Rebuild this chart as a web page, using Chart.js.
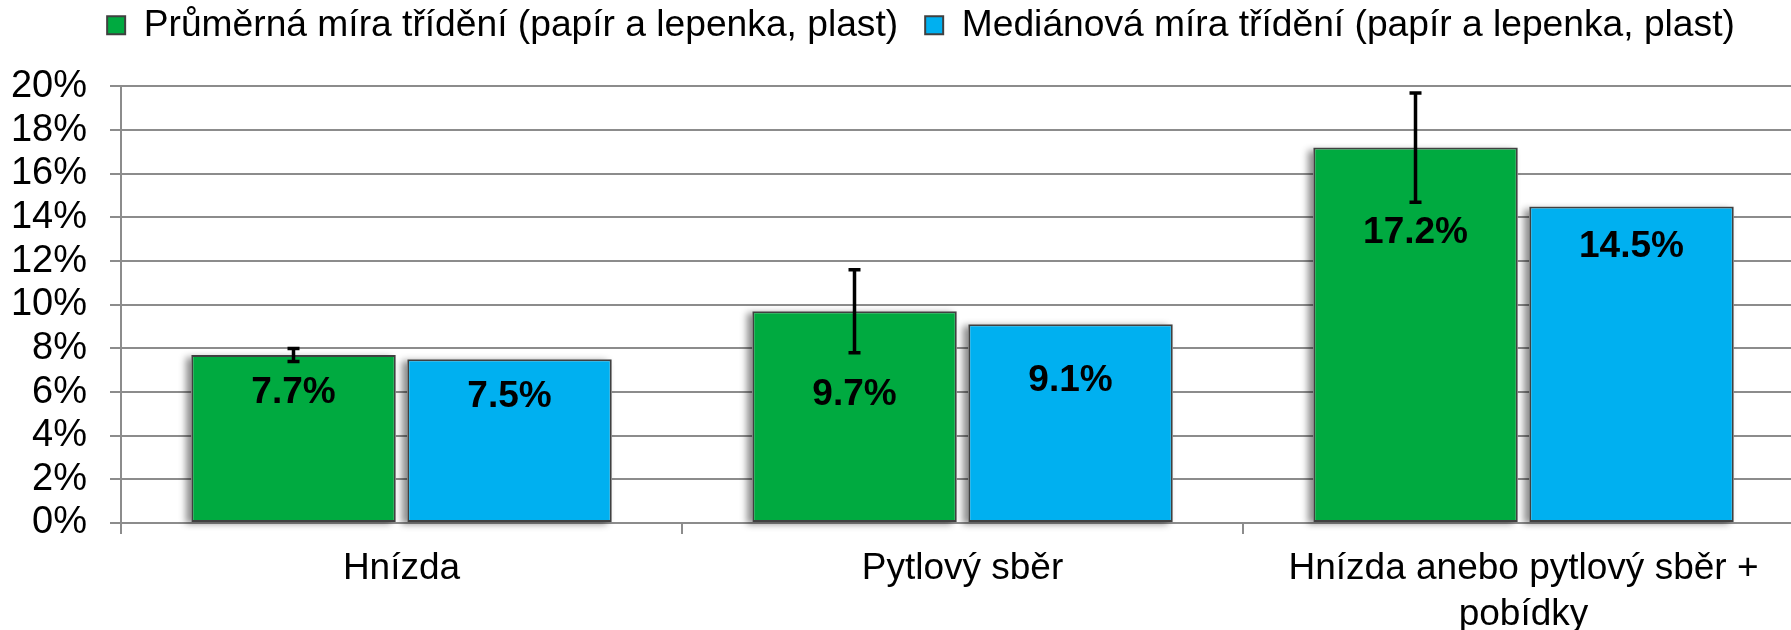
<!DOCTYPE html>
<html>
<head>
<meta charset="utf-8">
<script src="https://cdn.jsdelivr.net/npm/chart.js@4.4.1/dist/chart.umd.min.js"></script>
<style>
  html, body { margin: 0; padding: 0; background: #fff; overflow: hidden; }
  #wrap { position: absolute; left: 0; top: 0; }
</style>
</head>
<body>
<div id="wrap"><canvas id="chart" width="1842" height="630"></canvas></div>
<script>
const categories = ['Hnízda', 'Pytlový sběr', ['Hnízda anebo pytlový sběr +', 'pobídky']];
const seriesNames = ['Průměrná míra třídění (papír a lepenka, plast)', 'Mediánová míra třídění (papír a lepenka, plast)'];
const meanRate = [7.7, 9.7, 17.2];
const medianRate = [7.5, 9.1, 14.5];
const meanError = [0.3, 1.9, 2.5];
const yTicks = [0, 2, 4, 6, 8, 10, 12, 14, 16, 18, 20];

const FONT = '"Liberation Sans", Arial, sans-serif';
const GRID = '#8c8c8c';
// how far below the bar top each value label sits (labels were moved by hand in the original)
const labelDrop = [[38, 84, 85], [38, 56, 40]];

// soft shadow to the left of each bar
const barShadow = {
    id: 'barShadow',
    beforeDatasetsDraw: chart => {
        const ctx = chart.ctx;
        ctx.save();
        ctx.shadowColor = 'rgba(0,0,0,0.45)';
        ctx.shadowBlur = 7;
        ctx.shadowOffsetX = -5;
        ctx.shadowOffsetY = 2;
        ctx.fillStyle = '#fff';
        chart.data.datasets.forEach((ds, dsIdx) => {
            chart.getDatasetMeta(dsIdx).data.forEach(bar => {
                ctx.fillRect(bar.x - bar.width / 2, bar.y, bar.width, bar.base - bar.y);
            });
        });
        ctx.restore();
    }
};

const errorBars = {
    id: 'errorBars',
    afterDatasetsDraw: chart => {
        const ctx = chart.ctx;
        const y = chart.scales.y;
        const meta = chart.getDatasetMeta(0);
        ctx.save();
        ctx.strokeStyle = '#000';
        ctx.lineWidth = 3.5;
        meta.data.forEach((bar, i) => {
            const hi = y.getPixelForValue(meanRate[i] + meanError[i]);
            const lo = y.getPixelForValue(meanRate[i] - meanError[i]);
            ctx.beginPath();
            ctx.moveTo(bar.x, hi);
            ctx.lineTo(bar.x, lo);
            ctx.moveTo(bar.x - 6, hi);
            ctx.lineTo(bar.x + 6, hi);
            ctx.moveTo(bar.x - 6, lo);
            ctx.lineTo(bar.x + 6, lo);
            ctx.stroke();
        });
        ctx.restore();
    }
};

const valueLabels = {
    id: 'valueLabels',
    afterDraw: chart => {
        const ctx = chart.ctx;
        ctx.save();
        ctx.font = 'bold 37px ' + FONT;
        ctx.fillStyle = '#000';
        ctx.textAlign = 'center';
        ctx.textBaseline = 'middle';
        chart.data.datasets.forEach((ds, dsIdx) => {
            chart.getDatasetMeta(dsIdx).data.forEach((bar, i) => {
                ctx.fillText(ds.data[i].toFixed(1) + '%', bar.x, bar.y + labelDrop[dsIdx][i]);
            });
        });
        ctx.restore();
    }
};

// extra room between legend and plot
const legendSpace = {
    id: 'legendSpace',
    beforeInit: chart => {
        const fit = chart.legend.fit;
        chart.legend.fit = function () {
            fit.call(this);
            this.height += 32.5;
        };
    }
};

new Chart(document.getElementById('chart').getContext('2d'), {
    type: 'bar',
    data: {
        labels: categories,
        datasets: [
            {
                label: seriesNames[0],
                data: meanRate,
                backgroundColor: '#00AA40',
                borderColor: '#404040',
                borderWidth: 2,
                borderSkipped: false,
                categoryPercentage: 0.77,
                barPercentage: 0.947
            },
            {
                label: seriesNames[1],
                data: medianRate,
                backgroundColor: '#00B0F0',
                borderColor: '#404040',
                borderWidth: 2,
                borderSkipped: false,
                categoryPercentage: 0.77,
                barPercentage: 0.947
            }
        ]
    },
    options: {
        responsive: false,
        animation: false,
        layout: { padding: { top: -20.25, left: 0, right: 0, bottom: 0 } },
        plugins: {
            tooltip: { enabled: false },
            legend: {
                display: true,
                position: 'top',
                labels: {
                    boxWidth: 18,
                    boxHeight: 18,
                    padding: 27,
                    color: '#000',
                    font: { family: FONT, size: 37.2 }
                }
            }
        },
        scales: {
            x: {
                grid: { drawOnChartArea: false, tickLength: 11, color: GRID, lineWidth: 2 },
                border: { color: GRID, width: 2 },
                ticks: { color: '#000', padding: 12, maxRotation: 0, autoSkip: false, font: { family: FONT, size: 37, lineHeight: 1.24 } },
                afterFit: axis => { axis.height = 107; }
            },
            y: {
                min: 0,
                max: 20,
                afterBuildTicks: axis => { axis.ticks = yTicks.map(v => ({ value: v })); },
                grid: { color: GRID, lineWidth: 2, tickLength: 11 },
                border: { color: GRID, width: 2 },
                ticks: { color: '#000', padding: 23, autoSkip: false, font: { family: FONT, size: 38 }, callback: v => v + '%' },
                afterFit: axis => { axis.width = 121; }
            },
            y2: {
                position: 'right',
                display: true,
                grid: { display: false, drawTicks: false },
                border: { display: false },
                ticks: { display: false },
                afterFit: axis => { axis.width = 38; }
            }
        }
    },
    plugins: [barShadow, errorBars, valueLabels, legendSpace]
});
</script>
</body>
</html>
